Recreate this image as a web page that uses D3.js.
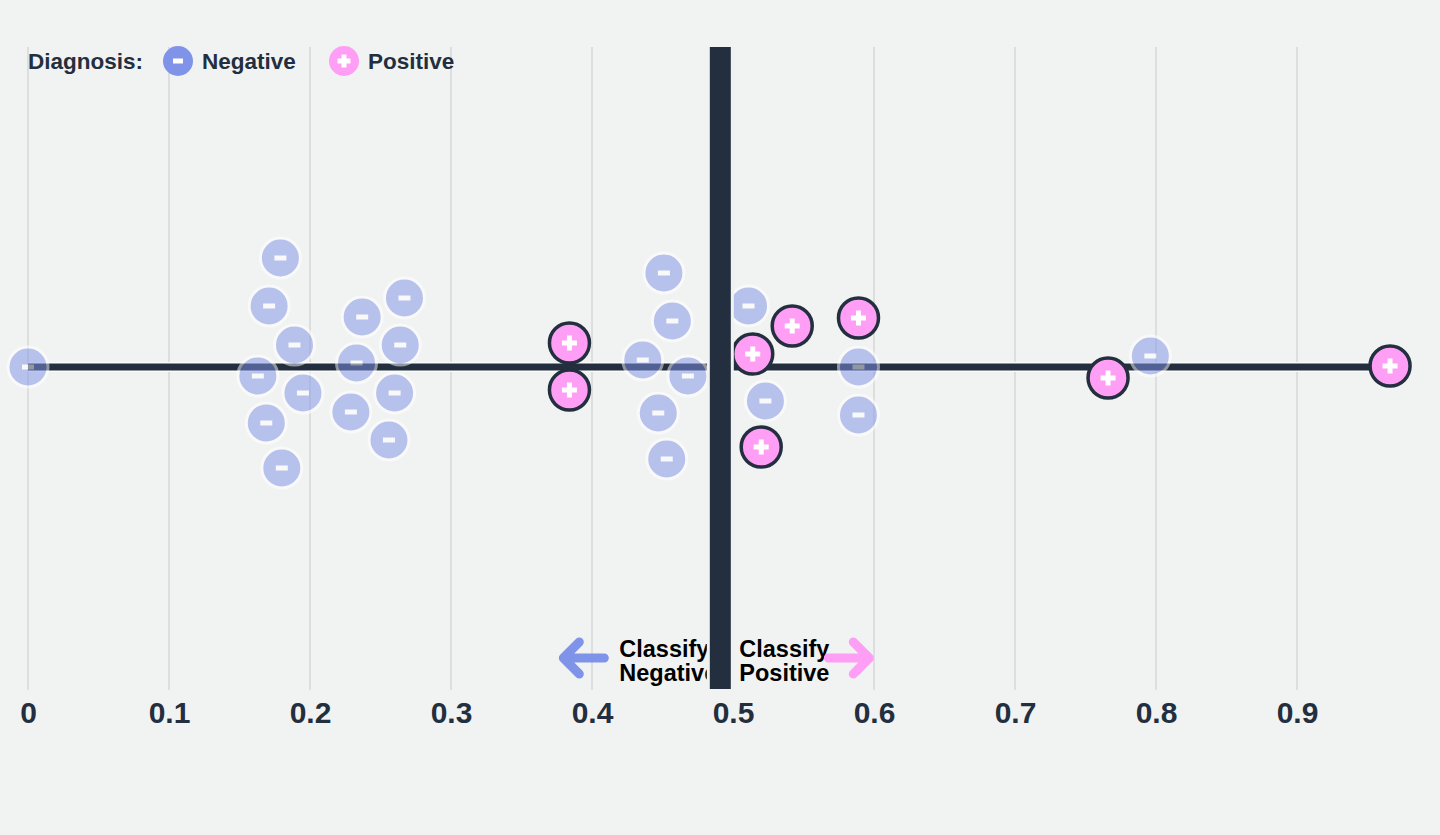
<!DOCTYPE html>
<html>
<head>
<meta charset="utf-8">
<script src="https://cdn.jsdelivr.net/npm/d3@7"></script>
<style>
  html, body { margin: 0; padding: 0; background: #f1f3f2; }
  svg { display: block; font-family: "Liberation Sans", Arial, sans-serif; }
</style>
</head>
<body>
<svg id="chart" width="1440" height="835"></svg>
<script>
// ---- data ----
const tickValues = [0, 0.1, 0.2, 0.3, 0.4, 0.5, 0.6, 0.7, 0.8, 0.9];
const tickLabels = ["0", "0.1", "0.2", "0.3", "0.4", "0.5", "0.6", "0.7", "0.8", "0.9"];
const threshold = 0.491;

// negatives: predicted score and swarm offset
const negScore = [0.000, 0.179, 0.171, 0.189, 0.163, 0.195, 0.169, 0.180,
                  0.237, 0.267, 0.233, 0.264, 0.260, 0.229, 0.256,
                  0.451, 0.457, 0.436, 0.468, 0.447, 0.453,
                  0.511, 0.523, 0.589, 0.589, 0.796];
const negSwarm = [0, 109, 61, 22, -9, -26, -56, -101,
                  50, 69, 4, 22, -26, -45, -73,
                  94, 46, 7, -9, -46, -92,
                  61, -34, 0, -48, 11];
const posScore = [0.384, 0.384, 0.514, 0.542, 0.589, 0.520, 0.766, 0.966];
const posSwarm = [24, -23, 13, 41, 49, -80, -11, 1];

const legendTitle = "Diagnosis:";
const legendItems = ["Negative", "Positive"];
const leftLabel = ["Classify", "Negative"];
const rightLabel = ["Classify", "Positive"];

const negData = negScore.map((s, i) => ({score: s, swarm: negSwarm[i], cls: "neg"}));
const posData = posScore.map((s, i) => ({score: s, swarm: posSwarm[i], cls: "pos"}));
const allData = negData.concat(posData);

// ---- setup ----
const BG = "#f1f3f2", DARK = "#232f3e", BLUE = "#7f93e8", PINK = "#ff9ef5";
const FONT = "'Liberation Sans', Arial, sans-serif";
const svg = d3.select("#chart");
const x = d3.scaleLinear().domain([0, 1]).range([28, 1438]);
const y = d3.scaleLinear().domain([-320, 320]).range([687, 47]);
const R = 20;

// gridlines
svg.append("g").selectAll("line").data(tickValues).join("line")
  .attr("x1", d => x(d)).attr("x2", d => x(d))
  .attr("y1", y(320)).attr("y2", y(-320) + 3)
  .attr("stroke", "#d6d9d9").attr("stroke-width", 1.5);

// tick labels via axis
const axis = d3.axisBottom(x).tickValues(tickValues).tickFormat((d, i) => tickLabels[i]).tickSize(0).tickPadding(0);
const gAxis = svg.append("g").attr("transform", `translate(0,${y(-320)})`).call(axis);
gAxis.select(".domain").remove();
gAxis.selectAll(".tick line").remove();
gAxis.selectAll(".tick text")
  .attr("y", 36).attr("dy", 0)
  .attr("fill", DARK).attr("font-size", 30).attr("font-weight", 700)
  .attr("font-family", FONT);

// horizontal line across the data extent
const ext = d3.extent(allData, d => d.score);
svg.append("line").attr("x1", x(ext[0])).attr("x2", x(ext[1]))
  .attr("y1", y(0)).attr("y2", y(0)).attr("stroke", "#fafbfb").attr("stroke-width", 10);
svg.append("line").attr("x1", x(ext[0])).attr("x2", x(ext[1]))
  .attr("y1", y(0)).attr("y2", y(0)).attr("stroke", DARK).attr("stroke-width", 7);

// symbol helpers
function minus(g, w, h) {
  g.append("rect").attr("x", -w / 2).attr("y", -h / 2).attr("width", w).attr("height", h).attr("fill", "#fff");
}
function plus(g, s, t) {
  g.append("rect").attr("x", -s / 2).attr("y", -t / 2).attr("width", s).attr("height", t).attr("fill", "#fff");
  g.append("rect").attr("x", -t / 2).attr("y", -s / 2).attr("width", t).attr("height", s).attr("fill", "#fff");
}

// negatives
const negG = svg.append("g").selectAll("g").data(negData).join("g")
  .attr("transform", d => `translate(${x(d.score)},${y(d.swarm)})`)
  .attr("opacity", 0.5);
negG.append("circle").attr("r", R).attr("fill", BLUE).attr("stroke", "#ffffff").attr("stroke-width", 3);
negG.each(function () { minus(d3.select(this), 12, 5); });

// positives
const posG = svg.append("g").selectAll("g").data(posData).join("g")
  .attr("transform", d => `translate(${x(d.score)},${y(d.swarm)})`);
posG.append("circle").attr("r", R).attr("fill", PINK).attr("stroke", DARK).attr("stroke-width", 3.5);
posG.each(function () { plus(d3.select(this), 15, 5); });

// legend
const leg = svg.append("g").attr("font-family", FONT).attr("font-weight", 700)
  .attr("font-size", 22.5).attr("fill", DARK);
leg.append("text").attr("x", 28).attr("y", 69).text(legendTitle);
const legX = [178, 344];
legendItems.forEach((name, i) => {
  const g = leg.append("g").attr("transform", `translate(${legX[i]},61)`);
  g.append("circle").attr("r", 15).attr("fill", i === 0 ? BLUE : PINK);
  if (i === 0) minus(g, 10, 5); else plus(g, 13, 5);
  leg.append("text").attr("x", legX[i] + 24).attr("y", 69).text(name);
});

// classify labels (two lines each, one text element with tspans)
function twoLine(lines, x0) {
  const t = svg.append("text").attr("font-family", FONT).attr("font-weight", 700)
    .attr("font-size", 23.5).attr("fill", "#000");
  lines.forEach((s, i) => {
    t.append("tspan").attr("x", x0).attr("y", 657 + i * 24).text(s);
  });
}
twoLine(leftLabel, x(threshold) - 101);
twoLine(rightLabel, x(threshold) + 19);

// arrows
const ay = 658;
const lx = x(threshold) - 157, rx = x(threshold) + 149;
svg.append("path")
  .attr("d", `M${lx + 41},${ay} L${lx},${ay} M${lx + 16},${ay - 16} L${lx},${ay} L${lx + 16},${ay + 16}`)
  .attr("fill", "none").attr("stroke", BLUE).attr("stroke-width", 9)
  .attr("stroke-linecap", "round").attr("stroke-linejoin", "round");
svg.append("path")
  .attr("d", `M${rx - 41},${ay} L${rx},${ay} M${rx - 16},${ay - 16} L${rx},${ay} L${rx - 16},${ay + 16}`)
  .attr("fill", "none").attr("stroke", PINK).attr("stroke-width", 9)
  .attr("stroke-linecap", "round").attr("stroke-linejoin", "round");

// threshold bar with background halo
const barTop = y(320), barH = y(-320) - y(320) + 2;
svg.append("rect")
  .attr("x", x(threshold) - 13.5).attr("width", 27)
  .attr("y", barTop - 1.5).attr("height", barH + 3)
  .attr("fill", BG);
svg.append("rect")
  .attr("x", x(threshold) - 10.5).attr("width", 21)
  .attr("y", barTop).attr("height", barH)
  .attr("fill", DARK);
</script>
</body>
</html>
